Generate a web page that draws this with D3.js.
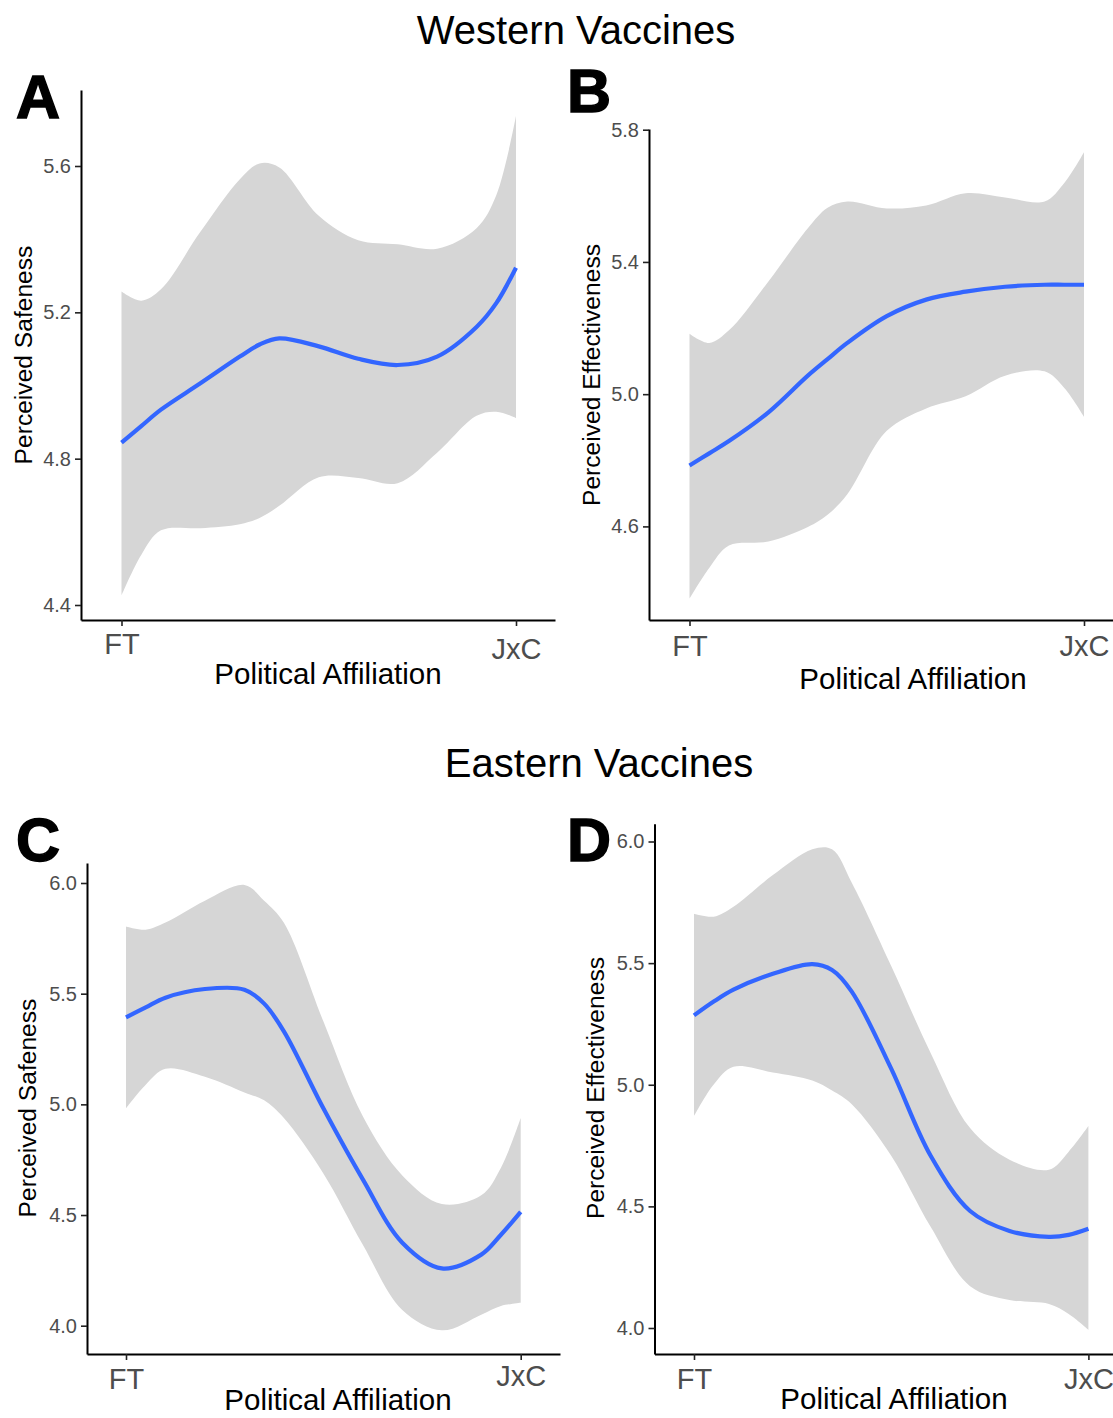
<!DOCTYPE html>
<html>
<head>
<meta charset="utf-8">
<script src="https://cdn.jsdelivr.net/npm/d3@7"></script>
<style>
  html, body { margin: 0; padding: 0; background: #fff; }
  svg { display: block; }
  text { font-family: "Liberation Sans", Arial, Helvetica, sans-serif; }
</style>
</head>
<body>
<svg id="chart" width="1113" height="1418"></svg>
<script>
// ---------- DATA ----------
const xCategories = ["FT", "JxC"];
const tGrid = [0, 0.05, 0.1, 0.2, 0.3, 0.35, 0.4, 0.5, 0.6, 0.7, 0.8, 0.9, 0.95, 1];

// Panel A: Western vaccines, Perceived Safeness
const aFit   = [4.844, 4.889, 4.934, 5.006, 5.079, 5.112, 5.129, 5.107, 5.073, 5.056, 5.079, 5.160, 5.225, 5.322];
const aUpper = [5.257, 5.232, 5.263, 5.420, 5.564, 5.607, 5.596, 5.464, 5.397, 5.386, 5.374, 5.430, 5.520, 5.737];
const aLower = [4.426, 4.537, 4.604, 4.610, 4.621, 4.638, 4.671, 4.749, 4.747, 4.733, 4.816, 4.917, 4.928, 4.911];
const aTicks = [4.4, 4.8, 5.2, 5.6];

// Panel B: Western vaccines, Perceived Effectiveness
const bFit   = [4.784, 4.821, 4.858, 4.945, 5.056, 5.106, 5.155, 5.236, 5.286, 5.310, 5.325, 5.331, 5.331, 5.331];
const bUpper = [5.183, 5.155, 5.193, 5.341, 5.502, 5.564, 5.583, 5.562, 5.571, 5.608, 5.595, 5.583, 5.639, 5.732];
const bLower = [4.381, 4.474, 4.542, 4.554, 4.598, 4.635, 4.697, 4.889, 4.957, 4.994, 5.056, 5.069, 5.019, 4.932];
const bTicks = [4.6, 5.0, 5.4, 5.8];

// Panel C: Eastern vaccines, Perceived Safeness
const cFit   = [5.393, 5.438, 5.482, 5.521, 5.518, 5.455, 5.330, 4.982, 4.661, 4.375, 4.259, 4.321, 4.411, 4.514];
const cUpper = [5.804, 5.789, 5.821, 5.920, 5.991, 5.920, 5.820, 5.375, 4.946, 4.679, 4.550, 4.589, 4.714, 4.938];
const cLower = [4.982, 5.089, 5.161, 5.125, 5.054, 5.018, 4.938, 4.688, 4.366, 4.071, 3.979, 4.050, 4.089, 4.104];
const cTicks = [4.0, 4.5, 5.0, 5.5, 6.0];

// Panel D: Eastern vaccines, Perceived Effectiveness
const dFit   = [5.285, 5.342, 5.391, 5.456, 5.496, 5.472, 5.383, 5.066, 4.708, 4.481, 4.399, 4.375, 4.383, 4.408];
const dUpper = [5.703, 5.691, 5.732, 5.862, 5.968, 5.968, 5.830, 5.488, 5.131, 4.822, 4.692, 4.651, 4.725, 4.830];
const dLower = [4.871, 5.001, 5.074, 5.050, 5.017, 4.976, 4.920, 4.708, 4.416, 4.172, 4.115, 4.099, 4.058, 3.993];
const dTicks = [4.0, 4.5, 5.0, 5.5, 6.0];

const titles = ["Western Vaccines", "Eastern Vaccines"];
const yTitles = ["Perceived Safeness", "Perceived Effectiveness"];
const xTitle = "Political Affiliation";

// ---------- LAYOUT ----------
const panels = [
  { letter: "A", fit: aFit, up: aUpper, lo: aLower, ticks: aTicks, yTitle: yTitles[0],
    left: 81, right: 555, top: 90, bottom: 620, xFT: 121.5, xJxC: 516,
    yRef: [aTicks[0], aTicks[aTicks.length-1]], yPix: [605, 166],
    letterPos: [16, 118], yTitlePos: [32, 355], xTitlePos: [328, 684], xLabY: [654, 659] },
  { letter: "B", fit: bFit, up: bUpper, lo: bLower, ticks: bTicks, yTitle: yTitles[1],
    left: 649, right: 1113, top: 129, bottom: 620, xFT: 689.5, xJxC: 1084,
    yRef: [bTicks[0], bTicks[bTicks.length-1]], yPix: [526.4, 129.7],
    letterPos: [567, 112], yTitlePos: [600, 375], xTitlePos: [913, 689], xLabY: [656, 656] },
  { letter: "C", fit: cFit, up: cUpper, lo: cLower, ticks: cTicks, yTitle: yTitles[0],
    left: 87, right: 560, top: 863, bottom: 1354, xFT: 126, xJxC: 520.7,
    yRef: [cTicks[0], cTicks[cTicks.length-1]], yPix: [1325.7, 883],
    letterPos: [16, 861], yTitlePos: [36, 1108], xTitlePos: [338, 1410], xLabY: [1389, 1386] },
  { letter: "D", fit: dFit, up: dUpper, lo: dLower, ticks: dTicks, yTitle: yTitles[1],
    left: 654.5, right: 1113, top: 823.7, bottom: 1354, xFT: 694, xJxC: 1088.4,
    yRef: [dTicks[0], dTicks[dTicks.length-1]], yPix: [1328, 841.5],
    letterPos: [567, 861], yTitlePos: [604, 1088], xTitlePos: [894, 1409], xLabY: [1389, 1389] }
];

const svg = d3.select("#chart");

svg.append("text").attr("x", 576).attr("y", 44).attr("text-anchor", "middle")
  .attr("font-size", 40).attr("fill", "#000").text(titles[0]);
svg.append("text").attr("x", 599).attr("y", 777).attr("text-anchor", "middle")
  .attr("font-size", 40).attr("fill", "#000").text(titles[1]);

panels.forEach(p => {
  const g = svg.append("g");

  // x scale: t in [0,1] -> FT..JxC, extended to the axis extent
  const x0 = d3.scaleLinear().domain([0, 1]).range([p.xFT, p.xJxC]);
  const x = d3.scaleLinear().domain([x0.invert(p.left), x0.invert(p.right)]).range([p.left, p.right]);
  const y0 = d3.scaleLinear().domain(p.yRef).range(p.yPix);
  const y = d3.scaleLinear().domain([y0.invert(p.bottom), y0.invert(p.top)]).range([p.bottom, p.top]);

  const data = tGrid.map((t, i) => ({ t, fit: p.fit[i], up: p.up[i], lo: p.lo[i] }));
  const curve = d3.curveCatmullRom.alpha(0.5);

  g.append("path").datum(data)
    .attr("d", d3.area().x(d => x(d.t)).y0(d => y(d.lo)).y1(d => y(d.up)).curve(curve))
    .attr("fill", "#d6d6d6");

  g.append("path").datum(data)
    .attr("d", d3.line().x(d => x(d.t)).y(d => y(d.fit)).curve(curve))
    .attr("fill", "none").attr("stroke", "#3366FF").attr("stroke-width", 4.2)
    .attr("stroke-linecap", "butt");

  // y axis
  const yAxis = g.append("g").attr("transform", `translate(${p.left},0)`)
    .call(d3.axisLeft(y).tickValues(p.ticks).tickFormat(d3.format(".1f")).tickSize(6).tickSizeOuter(0).tickPadding(4));
  yAxis.select(".domain").attr("stroke", "#000").attr("stroke-width", 2);
  yAxis.selectAll(".tick line").attr("stroke", "#222").attr("stroke-width", 1.6);
  yAxis.selectAll(".tick text").attr("font-size", 20).attr("fill", "#4d4d4d")
    .attr("font-family", "'Liberation Sans', Arial, sans-serif");

  // x axis
  const xAxis = g.append("g").attr("transform", `translate(0,${p.bottom})`)
    .call(d3.axisBottom(x).tickValues([0, 1]).tickFormat((d, i) => xCategories[i]).tickSize(6).tickSizeOuter(0));
  xAxis.select(".domain").attr("stroke", "#000").attr("stroke-width", 2);
  xAxis.selectAll(".tick line").attr("stroke", "#222").attr("stroke-width", 1.6);
  xAxis.selectAll(".tick text").attr("font-size", 29).attr("fill", "#4d4d4d")
    .attr("font-family", "'Liberation Sans', Arial, sans-serif")
    .attr("dy", null).attr("y", (d, i) => p.xLabY[i] - p.bottom);

  // titles
  g.append("text").attr("x", p.xTitlePos[0]).attr("y", p.xTitlePos[1])
    .attr("text-anchor", "middle").attr("font-size", 29.5).attr("fill", "#000").text(xTitle);
  g.append("text").attr("transform", `translate(${p.yTitlePos[0]},${p.yTitlePos[1]}) rotate(-90)`)
    .attr("text-anchor", "middle").attr("font-size", 24.6).attr("fill", "#000").text(p.yTitle);

  // panel letter
  g.append("text").attr("x", p.letterPos[0]).attr("y", p.letterPos[1])
    .attr("font-size", 61).attr("font-weight", "bold").attr("fill", "#000")
    .attr("stroke", "#000").attr("stroke-width", 1.5).text(p.letter);
});
</script>
</body>
</html>
